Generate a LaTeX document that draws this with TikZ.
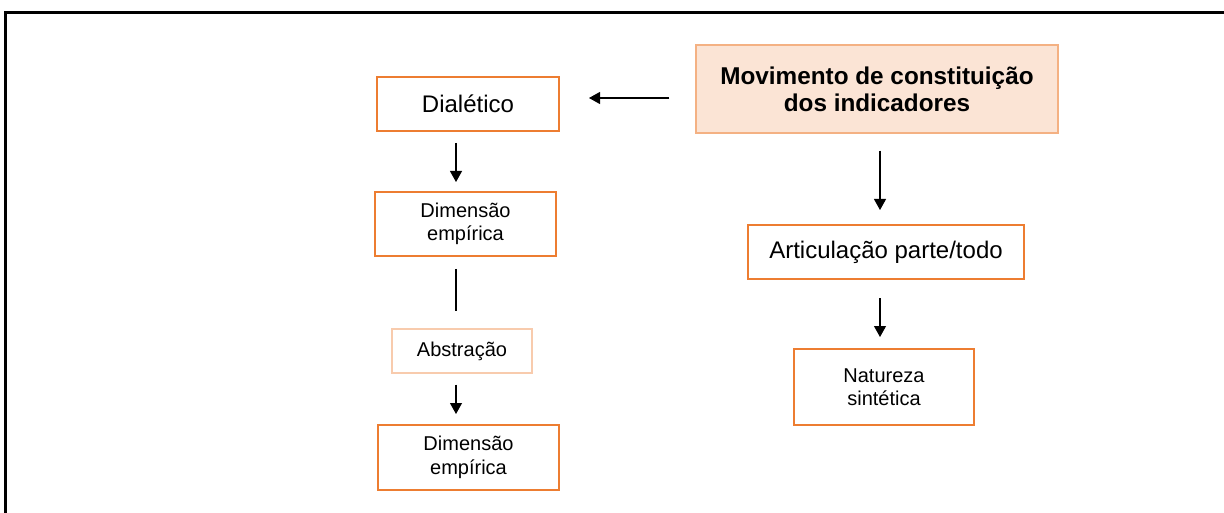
\documentclass[tikz,border=0pt]{standalone}
\usepackage{fontspec}
\setmainfont{Liberation Sans}
\usetikzlibrary{arrows.meta,calc}
\definecolor{orng}{HTML}{ED7D31}
\definecolor{lorng}{HTML}{F4B183}
\definecolor{vlorng}{HTML}{F8CBAD}
\definecolor{peach}{HTML}{FBE4D5}
\tikzset{
  obox/.style={draw=orng, line width=2pt, inner sep=0pt, align=center, text=black},
  big/.style={font=\fontsize{24}{27}\selectfont},
  small/.style={font=\fontsize{20}{23.5}\selectfont},
  arr/.style={-{Triangle[length=11pt,width=12pt]}, line width=1.1pt, black},
  plain/.style={line width=1.1pt, black}
}
\begin{document}
\begin{tikzpicture}[x=1pt,y=-1pt]
\useasboundingbox (0,0) rectangle (1224,513);
\draw[line width=2.2pt] (5.5,513) -- (5.5,12.5) -- (1224,12.5);

\node[obox, big, minimum width=182pt, minimum height=54pt] (dial) at (468,104) {Dialético};
\node[draw=lorng, line width=1.3pt, fill=peach, inner sep=0pt, align=center,
      font=\bfseries\fontsize{24.3}{27}\selectfont, minimum width=362pt, minimum height=88pt] (mov) at (877,89)
      {Movimento de constituição\\dos indicadores};
\node[obox, small, minimum width=181pt, minimum height=64pt] (dim1) at (465.5,224) {Dimensão\\empírica};
\node[draw=vlorng, line width=1.2pt, inner sep=0pt, small, minimum width=140pt, minimum height=44pt] (abs) at (462,351) {Abstração};
\node[obox, small, minimum width=181pt, minimum height=65pt] (dim2) at (468.5,457.5) {Dimensão\\empírica};
\node[obox, big, minimum width=276pt, minimum height=54pt] (art) at (886,252) {Articulação parte/todo};
\node[obox, small, minimum width=180pt, minimum height=76pt] (nat) at (884,387) {Natureza\\sintética};

\coordinate (colL) at (456,0);
\coordinate (colR) at (880,0);
\coordinate (rowA) at (0,98);

\draw[arr, shorten <=26pt, shorten >=29pt] (mov.west |- rowA) -- (dial.east |- rowA);
\draw[arr, shorten <=11pt, shorten >=9pt] (dial.south -| colL) -- (dim1.north -| colL);
\draw[plain, shorten <=12pt, shorten >=17pt] (dim1.south -| colL) -- (abs.north -| colL);
\draw[arr, shorten <=11pt, shorten >=10pt] (abs.south -| colL) -- (dim2.north -| colL);
\draw[arr, shorten <=17pt, shorten >=14pt] (mov.south -| colR) -- (art.north -| colR);
\draw[arr, shorten <=18pt, shorten >=11pt] (art.south -| colR) -- (nat.north -| colR);
\end{tikzpicture}
\end{document}
